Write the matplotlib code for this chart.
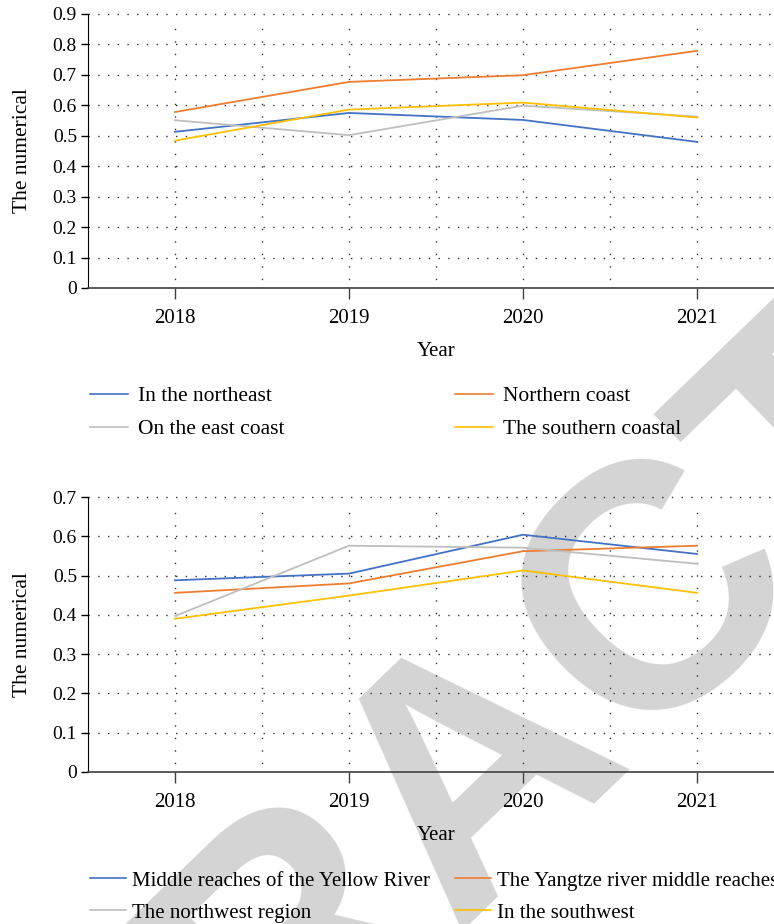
import matplotlib
matplotlib.use("Agg")
import matplotlib.pyplot as plt
from matplotlib.lines import Line2D

# data
years = ["2018", "2019", "2020", "2021"]

northeast = [0.513, 0.575, 0.552, 0.480]
northern_coast = [0.578, 0.677, 0.699, 0.779]
east_coast = [0.551, 0.502, 0.599, 0.563]
southern_coastal = [0.484, 0.586, 0.609, 0.560]

yellow_river = [0.488, 0.505, 0.604, 0.555]
yangtze = [0.456, 0.480, 0.562, 0.576]
northwest = [0.397, 0.576, 0.571, 0.530]
southwest = [0.390, 0.449, 0.513, 0.456]

top_labels = ["In the northeast", "Northern coast", "On the east coast", "The southern coastal"]
bottom_labels = ["Middle reaches of the Yellow River", "The Yangtze river middle reaches",
                 "The northwest region", "In the southwest"]

BLUE, ORANGE, GRAY, YELLOW = "#4472C4", "#ED7D31", "#BFBFBF", "#FFC000"
SERIF = "Liberation Serif"

W, H = 774, 924
fig = plt.figure(figsize=(W / 100, H / 100), dpi=100)

# watermark behind everything
fig.text(478 / W, 1 - 768 / H, "RETRACTED", fontsize=250, fontweight="bold",
         family="Liberation Sans", color="#d4d4d4", rotation=44,
         ha="center", va="center", rotation_mode="anchor", zorder=-5)


def make_axes(top_px, bottom_px, ymax):
    # 2018..2021 sit 174 px apart, axis runs from -0.5 to 3.5 and is cut by the right edge
    ax = fig.add_axes([88 / W, 1 - bottom_px / H, 696 / W, (bottom_px - top_px) / H])
    ax.patch.set_visible(False)
    ax.set_xlim(-0.5, 3.5)
    ax.set_ylim(0, ymax)
    ax.spines["top"].set_visible(False)
    ax.spines["right"].set_visible(False)
    ax.spines["left"].set_color("black")
    ax.spines["bottom"].set_color("#404040")
    ax.spines["bottom"].set_linewidth(1.2)
    ax.spines["bottom"].set_bounds(-0.5, 4.0)
    yt = [round(0.1 * i, 1) for i in range(int(round(ymax * 10)) + 1)]
    ax.set_yticks(yt)
    ax.set_yticklabels(["0" if v == 0 else f"{v:.1f}" for v in yt], family=SERIF, fontsize=14)
    ax.set_xticks(range(len(years)))
    ax.set_xticklabels(years, family=SERIF, fontsize=15)
    ax.tick_params(axis="x", length=8, width=1, color="#404040", pad=7)
    ax.tick_params(axis="y", length=5, width=1, pad=3)
    # dotted grid
    for v in yt[1:]:
        ax.axhline(v, xmax=1.2, color="#333333", lw=1.0, ls=(0, (1, 6)), zorder=1, clip_on=False)
    for i in range(1, 9):
        ax.axvline(-0.5 + 0.5 * i, ymax=0.97, color="#333333", lw=1.0, ls=(3, (1, 8)), zorder=1,
                   clip_on=False)
    ax.set_xlabel("Year", family=SERIF, fontsize=15, labelpad=10)
    ax.set_ylabel("The numerical", family=SERIF, fontsize=15.5)
    ax.yaxis.set_label_coords(-56 / 696, 0.5)
    return ax


def add_legends(colors, labels, y1_px, pad, size):
    handles = [Line2D([], [], color=c, lw=1.2) for c in colors]
    for col, x_px in ((0, 90), (1, 455)):
        idx = [col, col + 2]
        fig.legend([handles[i] for i in idx], [labels[i] for i in idx],
                   loc="upper left", bbox_to_anchor=(x_px / W, 1 - (y1_px - 8) / H),
                   frameon=False, handlelength=1.75, handletextpad=pad,
                   labelspacing=0.6, borderaxespad=0, borderpad=0,
                   prop={"family": SERIF, "size": size})


colors = [BLUE, ORANGE, GRAY, YELLOW]
x = range(len(years))

ax1 = make_axes(14, 288, 0.9)
for s, c in zip([northeast, northern_coast, east_coast, southern_coastal], colors):
    ax1.plot(x, s, color=c, lw=1.3, zorder=3)
add_legends(colors, top_labels, 394, 0.5, 15.5)

ax2 = make_axes(497, 772, 0.7)
for s, c in zip([yellow_river, yangtze, northwest, southwest], colors):
    ax2.plot(x, s, color=c, lw=1.3, zorder=3)
add_legends(colors, bottom_labels, 879, 0.25, 15)

fig.savefig("out.png", dpi=100)
